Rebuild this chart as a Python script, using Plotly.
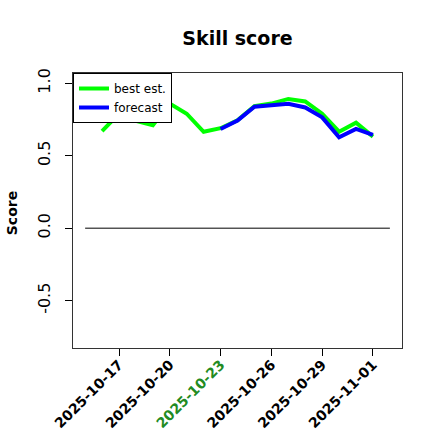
import plotly.graph_objects as go

dates_best = ["2025-10-16", "2025-10-17", "2025-10-18", "2025-10-19", "2025-10-20",
              "2025-10-21", "2025-10-22", "2025-10-23", "2025-10-24", "2025-10-25",
              "2025-10-26", "2025-10-27", "2025-10-28", "2025-10-29", "2025-10-30",
              "2025-10-31", "2025-11-01"]
best_est = [0.67, 0.79, 0.74, 0.71, 0.86, 0.79, 0.665, 0.69, 0.745, 0.842,
            0.86, 0.892, 0.875, 0.79, 0.666, 0.728, 0.632]

dates_fc = ["2025-10-23", "2025-10-24", "2025-10-25", "2025-10-26", "2025-10-27",
            "2025-10-28", "2025-10-29", "2025-10-30", "2025-10-31", "2025-11-01"]
forecast = [0.685, 0.742, 0.838, 0.849, 0.858, 0.833, 0.765, 0.628, 0.685, 0.644]

zero_x = ["2025-10-15", "2025-11-02"]
zero_y = [0, 0]

tick_vals = ["2025-10-17", "2025-10-20", "2025-10-23", "2025-10-26", "2025-10-29", "2025-11-01"]
highlight = "2025-10-23"
tick_text = [
    f"<b><span style='color:#228B22'>{t}</span></b>" if t == highlight else f"<b>{t}</b>"
    for t in tick_vals
]

W = H = 440
fig = go.Figure()
fig.add_trace(go.Scatter(x=zero_x, y=zero_y, mode="lines",
                         line=dict(color="black", width=1), showlegend=False,
                         hoverinfo="skip"))
fig.add_trace(go.Scatter(x=dates_best, y=best_est, mode="lines", name="best est.",
                         line=dict(color="#00FF00", width=4)))
fig.add_trace(go.Scatter(x=dates_fc, y=forecast, mode="lines", name="forecast",
                         line=dict(color="#0000FF", width=4)))

fig.update_layout(
    width=W, height=H,
    margin=dict(l=73, r=38, t=73, b=92, autoexpand=False),
    paper_bgcolor="white", plot_bgcolor="white",
    font=dict(family="DejaVu Sans", color="black", size=12),
    title=dict(text="<b>Skill score</b>", x=0.5, xref="paper", xanchor="center",
               y=1 - 38 / H, yref="container", yanchor="middle",
               font=dict(size=19, family="DejaVu Sans", color="black")),
    legend=dict(x=0, y=1, xanchor="left", yanchor="top",
                bordercolor="black", borderwidth=1, bgcolor="white",
                font=dict(size=12, family="DejaVu Sans"),
                itemwidth=30, tracegroupgap=0),
    xaxis=dict(type="date", automargin=False,
               range=["2025-10-14 06:47", "2025-11-02 17:11"],
               tickvals=tick_vals, ticktext=tick_text, tickangle=-45,
               ticks="outside", ticklen=7, tickcolor="black",
               tickfont=dict(size=14, family="DejaVu Sans", color="black"),
               showgrid=False, zeroline=False,
               showline=True, linecolor="#333333", linewidth=1, mirror=True,
               ticklabelstandoff=-5),
    yaxis=dict(range=[-0.827, 1.071], automargin=False,
               tickvals=[-0.5, 0.0, 0.5, 1.0], ticktext=["-0.5", "0.0", "0.5", "1.0"],
               tickangle=-90, ticks="outside", ticklen=7, tickcolor="black",
               tickfont=dict(size=16, family="DejaVu Sans", color="black"),
               showgrid=False, zeroline=False,
               showline=True, linecolor="#333333", linewidth=1, mirror=True,
               ticklabelstandoff=9),
    annotations=[dict(text="<b>Score</b>", xref="paper", yref="paper",
                      x=(12 - 73) / 329, y=0.49, textangle=-90,
                      showarrow=False, xanchor="center", yanchor="middle",
                      font=dict(size=14, family="DejaVu Sans", color="black"))],
)

fig.write_html("out.html",
               config={"displayModeBar": False},
               post_script="document.body.style.margin='0';document.body.style.overflow='hidden';")
